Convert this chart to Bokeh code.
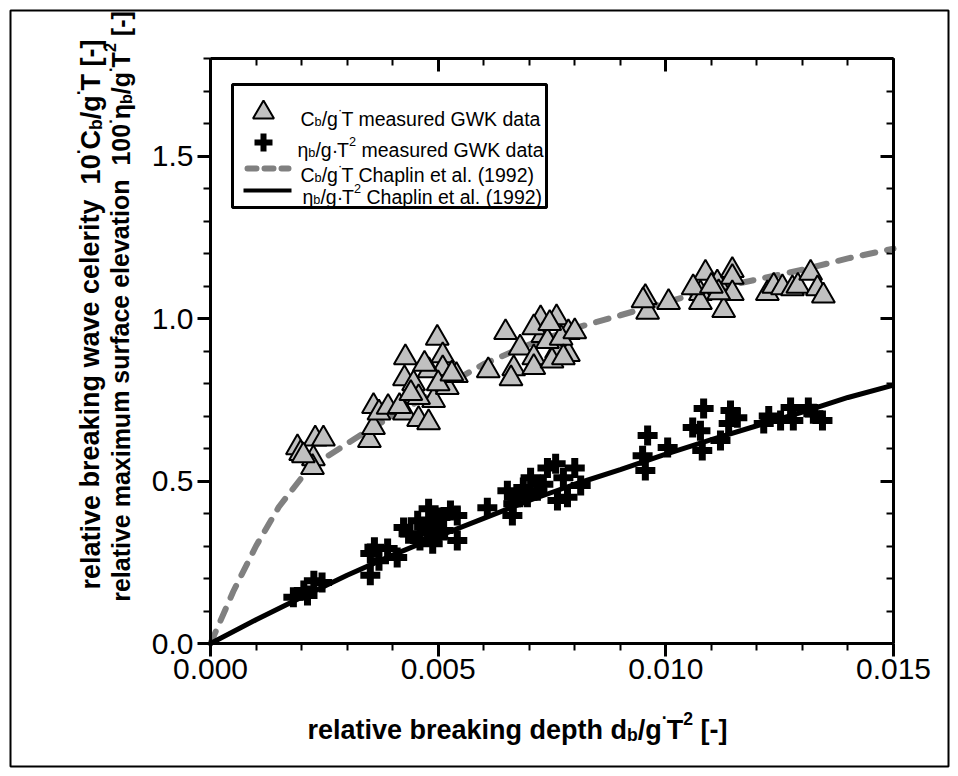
import math
from bokeh.plotting import figure
from bokeh.models import (Range1d, LinearAxis, SingleIntervalTicker, PrintfTickFormatter,
                          CustomJSTickFormatter, ColumnDataSource)
from bokeh.core.properties import value, field
from bokeh.embed import file_html
from bokeh.resources import INLINE

# ---------------- data ----------------
celerity_x = [0.00191, 0.00230, 0.00248, 0.00226, 0.00224, 0.00198, 0.00204,
              0.00349, 0.00358, 0.00358, 0.00370, 0.00390, 0.00428, 0.00426, 0.00446,
              0.00426, 0.00415, 0.00457, 0.00479, 0.00490, 0.00498, 0.00510, 0.00510,
              0.00480, 0.00520, 0.00540, 0.00457, 0.00440, 0.00470, 0.00500, 0.00530,
              0.00610,
              0.00648, 0.00680, 0.00666, 0.00660, 0.00710, 0.00710, 0.00725, 0.00760,
              0.00730, 0.00760, 0.00786, 0.00786, 0.00750, 0.00710, 0.00740, 0.00770,
              0.00800, 0.00775, 0.00745,
              0.00955, 0.00960, 0.01006, 0.00950, 0.01087, 0.01076, 0.01076, 0.01060,
              0.01113, 0.01146, 0.01146, 0.01146, 0.01127, 0.01116, 0.01100, 0.01223,
              0.01237, 0.01256, 0.01278, 0.01290, 0.01318, 0.01333, 0.01346]
celerity_y = [0.603, 0.630, 0.630, 0.569, 0.542, 0.585, 0.578,
              0.625, 0.665, 0.730, 0.710, 0.727, 0.880, 0.815, 0.800,
              0.710, 0.730, 0.690, 0.680, 0.748, 0.940, 0.886, 0.846,
              0.840, 0.788, 0.825, 0.757, 0.770, 0.860, 0.800, 0.830,
              0.840,
              0.957, 0.910, 0.846, 0.815, 0.880, 0.850, 1.000, 1.003,
              0.948, 0.900, 0.957, 0.890, 0.870, 0.972, 0.930, 0.940,
              0.960, 0.880, 0.985,
              1.065, 1.020, 1.050, 1.055, 1.140, 1.077, 1.050, 1.095,
              1.110, 1.148, 1.127, 1.077, 1.025, 1.080, 1.100, 1.077,
              1.100, 1.095, 1.092, 1.100, 1.140, 1.092, 1.070]

elevation_x = [0.00182, 0.00205, 0.00227, 0.00245, 0.00213,
               0.00351, 0.00351, 0.00360, 0.00389, 0.00410, 0.00370,
               0.00424, 0.00435, 0.00455, 0.00479, 0.00505, 0.00527, 0.00542, 0.00542,
               0.00488, 0.00460, 0.00476, 0.00512, 0.00490, 0.00500, 0.00470,
               0.00608, 0.00663, 0.00652, 0.00674, 0.00703, 0.00718, 0.00740, 0.00758,
               0.00775, 0.00800, 0.00813, 0.00762, 0.00784, 0.00696, 0.00731, 0.00687,
               0.00665,
               0.00949, 0.00960, 0.00955,
               0.01004, 0.01083, 0.01059, 0.01076, 0.01080, 0.01120, 0.01142, 0.01138,
               0.01157, 0.01215, 0.01226, 0.01252, 0.01274, 0.01280, 0.01313, 0.01324,
               0.01344]
elevation_y = [0.142, 0.163, 0.193, 0.188, 0.148,
               0.210, 0.277, 0.296, 0.292, 0.265, 0.255,
               0.357, 0.338, 0.378, 0.415, 0.388, 0.409, 0.394, 0.317,
               0.307, 0.317, 0.348, 0.348, 0.378, 0.330, 0.360,
               0.418, 0.394, 0.470, 0.450, 0.510, 0.470, 0.540, 0.553,
               0.510, 0.540, 0.486, 0.440, 0.450, 0.450, 0.490, 0.480,
               0.430,
               0.578, 0.640, 0.532,
               0.603, 0.723, 0.665, 0.655, 0.594, 0.625, 0.717, 0.677,
               0.695, 0.677, 0.700, 0.686, 0.726, 0.686, 0.726, 0.707,
               0.686]

chaplin_c_x = [0.0, 0.0005, 0.001, 0.0015, 0.002, 0.0025, 0.003, 0.0035, 0.004, 0.005,
               0.006, 0.007, 0.008, 0.009, 0.010, 0.011, 0.012, 0.013, 0.014, 0.015]
chaplin_c_y = [0.0, 0.16, 0.30, 0.42, 0.51, 0.57, 0.615, 0.66, 0.70, 0.78,
               0.86, 0.92, 0.97, 1.01, 1.05, 1.09, 1.12, 1.15, 1.185, 1.215]

chaplin_e_x = [0.0, 0.001, 0.002, 0.003, 0.004, 0.005, 0.006, 0.007, 0.008,
               0.009, 0.010, 0.011, 0.012, 0.013, 0.014, 0.015]
chaplin_e_y = [0.0, 0.073, 0.142, 0.21, 0.272, 0.33, 0.385, 0.44, 0.49,
               0.535, 0.583, 0.627, 0.67, 0.712, 0.757, 0.795]

x_limits = (0.0, 0.015)
y_limits = (0.0, 1.8)
x_major_step = 0.005
y_major_step = 0.5

# rich-text labels: (text, kind) with kind n=normal, sub, sup, dot(raised small dot)
legend_rows = [
    [("C", "n"), ("b", "sub"), ("/g", "n"), ("·", "dot"), ("T measured GWK data", "n")],
    [("η", "n"), ("b", "sub"), ("/g", "n"), ("·", "n"), ("T", "n"), ("2", "sup"), (" measured GWK data", "n")],
    [("C", "n"), ("b", "sub"), ("/g", "n"), ("·", "dot"), ("T Chaplin et al. (1992)", "n")],
    [("η", "n"), ("b", "sub"), ("/g", "n"), ("·", "n"), ("T", "n"), ("2", "sup"), (" Chaplin et al. (1992)", "n")],
]
x_title = [("relative breaking depth d", "n"), ("b", "sub"), ("/g", "n"), ("·", "dot"),
           ("T", "n"), ("2", "sup"), (" [-]", "n")]
y_title_1 = [("relative breaking wave celerity", "n"), ("  10", "n"), ("·", "dot"), ("C", "n"),
             ("b", "sub"), ("/g", "n"), ("·", "dot"), ("T [-]", "n")]
y_title_2 = [("relative maximum surface elevation", "n"), ("  100", "n"), ("·", "dot"), ("η", "n"),
             ("b", "sub"), ("/g", "n"), ("·", "dot"), ("T", "n"), ("2", "sup"), (" [-]", "n")]

# ---------------- geometry ----------------
W, H = 958, 776
BORDER = 10
PX0, PX1 = 210, 893    # pixel columns of x = 0 and x = 0.015
PY0, PY1 = 643, 58     # pixel rows of y = 0 and y = 1.8
sx = (x_limits[1] - x_limits[0]) / (PX1 - PX0)
sy = (y_limits[1] - y_limits[0]) / (PY0 - PY1)


def X(px):
    return x_limits[0] + (px - PX0) * sx


def Y(py):
    return y_limits[0] + (PY0 - py) * sy


p = figure(width=W, height=H, output_backend="svg", toolbar_location=None,
           x_axis_location=None, y_axis_location=None, title=None,
           x_range=Range1d(X(BORDER), X(W - BORDER)),
           y_range=Range1d(Y(H - BORDER), Y(BORDER)),
           min_border=BORDER)
p.min_border_left = p.min_border_right = p.min_border_top = p.min_border_bottom = BORDER
p.outline_line_color = "black"
p.outline_line_width = 2
p.background_fill_color = "white"
p.border_fill_color = "white"
p.xgrid.visible = False
p.ygrid.visible = False

FONT = "Liberation Sans"
TICK_SIZE = "30px"


def make_axis(side, fixed, bounds, step, fmt, inward, labels, standoff):
    ax = LinearAxis(fixed_location=fixed, bounds=bounds,
                    ticker=SingleIntervalTicker(interval=step, num_minor_ticks=5))
    if labels:
        ax.formatter = PrintfTickFormatter(format=fmt)
    else:
        ax.formatter = CustomJSTickFormatter(code="return ''")
    ax.axis_line_width = 3
    ax.axis_line_color = "black"
    ax.major_tick_line_width = 3
    ax.minor_tick_line_width = 2
    ax.major_tick_line_color = "black"
    ax.minor_tick_line_color = "black"
    if inward:
        ax.major_tick_in, ax.major_tick_out = 13, 0
        ax.minor_tick_in, ax.minor_tick_out = 7, 0
    else:
        ax.major_tick_in, ax.major_tick_out = 0, 13
        ax.minor_tick_in, ax.minor_tick_out = 0, 7
    ax.major_label_text_font = FONT
    ax.major_label_text_font_size = TICK_SIZE
    ax.major_label_text_color = "black"
    ax.major_label_standoff = standoff
    p.add_layout(ax, side)
    return ax


make_axis("left", x_limits[0], y_limits, y_major_step, "%.1f", False, True, 4)
make_axis("below", y_limits[0], x_limits, x_major_step, "%.3f", False, True, 2)
make_axis("right", x_limits[1], y_limits, y_major_step, "%.1f", True, False, 4)
make_axis("above", y_limits[1], x_limits, x_major_step, "%.3f", True, False, 4)

# ---------------- data glyphs ----------------
DASH_COLOR = "#808080"
p.line(chaplin_c_x, chaplin_c_y, line_color=DASH_COLOR, line_width=6,
       line_dash="13 12", line_cap="round")
p.line(chaplin_e_x, chaplin_e_y, line_color="black", line_width=5)
p.scatter(celerity_x, celerity_y, marker="triangle", size=23,
          fill_color="#c0c0c0", line_color="black", line_width=2)
p.scatter(elevation_x, elevation_y, marker="cross", size=20,
          line_color="black", line_width=7)

# ---------------- legend ----------------
p.quad(left=[X(232)], right=[X(546)], top=[Y(84)], bottom=[Y(207)],
       fill_color="white", line_color="black", line_width=3)
p.scatter([X(263)], [Y(112)], marker="triangle", size=21,
          fill_color="#c0c0c0", line_color="black", line_width=2)
p.scatter([X(263)], [Y(142)], marker="cross", size=18, line_color="black", line_width=6)
p.line([X(247), X(288)], [Y(168), Y(168)], line_color=DASH_COLOR, line_width=6,
       line_dash="9 8", line_cap="round")
p.line([X(243), X(291)], [Y(190), Y(190)], line_color="black", line_width=4)

# ---------------- rich text helper ----------------
REG = dict(zip("abcdefghijklmnopqrstuvwxyz",
               [556, 556, 500, 556, 556, 278, 556, 556, 222, 222, 500, 222, 833, 556, 556,
                556, 556, 333, 500, 278, 556, 500, 722, 500, 500, 500]))
REG.update(dict(zip("ABCDEFGHIJKLMNOPQRSTUVWXYZ",
                    [667, 667, 722, 722, 667, 611, 778, 722, 278, 500, 667, 556, 833, 722,
                     778, 667, 778, 722, 667, 611, 722, 667, 944, 667, 667, 611])))
REG.update({" ": 278, ".": 278, "/": 278, "[": 278, "]": 278, "-": 333, "(": 333,
            ")": 333, "·": 278, "η": 556})
REG.update({d: 556 for d in "0123456789"})
BOLD = dict(zip("abcdefghijklmnopqrstuvwxyz",
                [556, 611, 556, 611, 556, 333, 611, 611, 278, 278, 556, 278, 889, 611, 611,
                 611, 611, 389, 556, 333, 611, 556, 778, 556, 556, 500]))
BOLD.update(dict(zip("ABCDEFGHIJKLMNOPQRSTUVWXYZ",
                     [722, 722, 722, 722, 667, 611, 778, 722, 278, 556, 722, 611, 833, 722,
                      778, 667, 778, 722, 667, 611, 722, 667, 944, 667, 667, 611])))
BOLD.update({" ": 278, ".": 278, "/": 278, "[": 333, "]": 333, "-": 333, "(": 333,
             ")": 333, "·": 278, "η": 611})
BOLD.update({d: 556 for d in "0123456789"})


def em_width(s, bold):
    t = BOLD if bold else REG
    return sum(t.get(c, 556) for c in s) / 1000.0


def layout_rich(segs, fs, bold):
    out = []
    pos = 0.0
    for txt, kind in segs:
        if kind == "n":
            size, off = fs, 0.0
        elif kind == "sub":
            size, off = 0.65 * fs, 0.2 * fs
        else:  # sup / dot
            size, off = 0.65 * fs, -0.42 * fs
        stripped = txt.lstrip(" ")
        lead = em_width(txt[:len(txt) - len(stripped)], bold) * size
        out.append((pos + lead, off, stripped, size))
        pos += em_width(txt, bold) * size
    return out, pos


texts = {}


def add_rich(segs, px, py, fs, bold=False, vertical=False, anchor="start"):
    items, total = layout_rich(segs, fs, bold)
    if anchor == "center":
        if vertical:
            py = py + total / 2.0
        else:
            px = px - total / 2.0
    key = "bold" if bold else "normal"
    d = texts.setdefault(key, dict(x=[], y=[], text=[], size=[], angle=[]))
    for pos, off, txt, size in items:
        if vertical:
            qx, qy, ang = px + off, py - pos, math.pi / 2
        else:
            qx, qy, ang = px + pos, py + off, 0.0
        d["x"].append(X(qx))
        d["y"].append(Y(qy))
        d["text"].append(txt)
        d["size"].append("%.1fpx" % size)
        d["angle"].append(ang)


LEG_FS = 19.5
for segs, (lx, ly) in zip(legend_rows, [(300, 118), (297, 149), (300, 174), (302, 196)]):
    add_rich(segs, lx, ly, LEG_FS)

add_rich(x_title, 307, 729, 27, bold=True)
add_rich(y_title_1, 90, 314, 27, bold=True, vertical=True, anchor="center")
add_rich(y_title_2, 120, 306, 25, bold=True, vertical=True, anchor="center")

for style, d in texts.items():
    p.text(x="x", y="y", text="text", angle="angle", source=ColumnDataSource(d),
           text_font_size=field("size"), text_font=value(FONT), text_font_style=style,
           text_color="black", text_align="left", text_baseline="alphabetic")

open("out.html", "w").write(file_html(p, INLINE))
